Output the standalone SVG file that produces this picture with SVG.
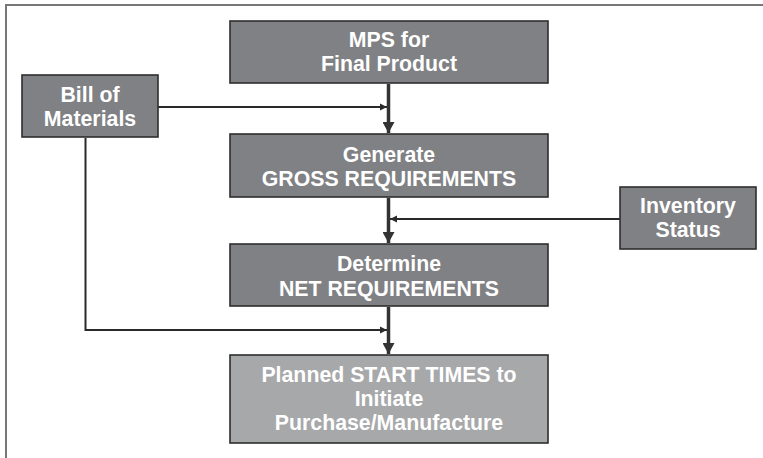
<svg xmlns="http://www.w3.org/2000/svg" width="763" height="458" viewBox="0 0 763 458">
<style>
.box{fill:#808184;stroke:#2e2e2e;stroke-width:1.6}
.light{fill:#a7a8aa;stroke:#2e2e2e;stroke-width:1.6}
.t{font-family:"Liberation Sans",Arial,sans-serif;font-weight:bold;font-size:21.3px;fill:#ffffff;text-anchor:middle}
.main{stroke:#333333;stroke-width:3.5;fill:none}
.thin{stroke:#2a2a2a;stroke-width:2;fill:none}
</style>
<defs>
<marker id="big" markerUnits="userSpaceOnUse" markerWidth="12" markerHeight="12" refX="11" refY="6" orient="auto">
<path d="M0,0 L11,6 L0,12 Z" fill="#333333"/>
</marker>
<marker id="small" markerUnits="userSpaceOnUse" markerWidth="8" markerHeight="8" refX="7" refY="4" orient="auto">
<path d="M0,0.5 L7,4 L0,7.5 Z" fill="#2a2a2a"/>
</marker>
</defs>
<rect width="763" height="458" fill="#ffffff"/>
<path d="M6,458 V5 H763" fill="none" stroke="#777777" stroke-width="2"/>
<g id="connectors">
<line class="main" x1="388.5" y1="84" x2="388.5" y2="133" marker-end="url(#big)"/>
<line class="main" x1="388.5" y1="198" x2="388.5" y2="243" marker-end="url(#big)"/>
<line class="main" x1="388.5" y1="307" x2="388.5" y2="354" marker-end="url(#big)"/>
<line class="thin" x1="158" y1="107" x2="387" y2="107" marker-end="url(#small)"/>
<line class="thin" x1="620" y1="219" x2="390" y2="219" marker-end="url(#small)"/>
<polyline class="thin" points="85.5,138 85.5,330 387,330" marker-end="url(#small)"/>
</g>
<g id="mps">
<rect class="box" x="230" y="21" width="318" height="62"/>
<text class="t" x="389" y="47">MPS for</text>
<text class="t" x="389" y="71">Final Product</text>
</g>
<g id="bom">
<rect class="box" x="22" y="75" width="136" height="62"/>
<text class="t" x="90" y="102">Bill of</text>
<text class="t" x="90" y="126">Materials</text>
</g>
<g id="gross">
<rect class="box" x="230" y="134" width="318" height="63"/>
<text class="t" x="389" y="162">Generate</text>
<text class="t" x="389" y="186">GROSS REQUIREMENTS</text>
</g>
<g id="inventory">
<rect class="box" x="620" y="187" width="136" height="62"/>
<text class="t" x="688" y="213">Inventory</text>
<text class="t" x="688" y="237">Status</text>
</g>
<g id="net">
<rect class="box" x="230" y="244" width="318" height="62"/>
<text class="t" x="389" y="271">Determine</text>
<text class="t" x="389" y="296">NET REQUIREMENTS</text>
</g>
<g id="planned">
<rect class="light" x="230" y="355" width="318" height="88"/>
<text class="t" x="389" y="382">Planned START TIMES to</text>
<text class="t" x="389" y="406">Initiate</text>
<text class="t" x="389" y="430">Purchase/Manufacture</text>
</g>
</svg>
